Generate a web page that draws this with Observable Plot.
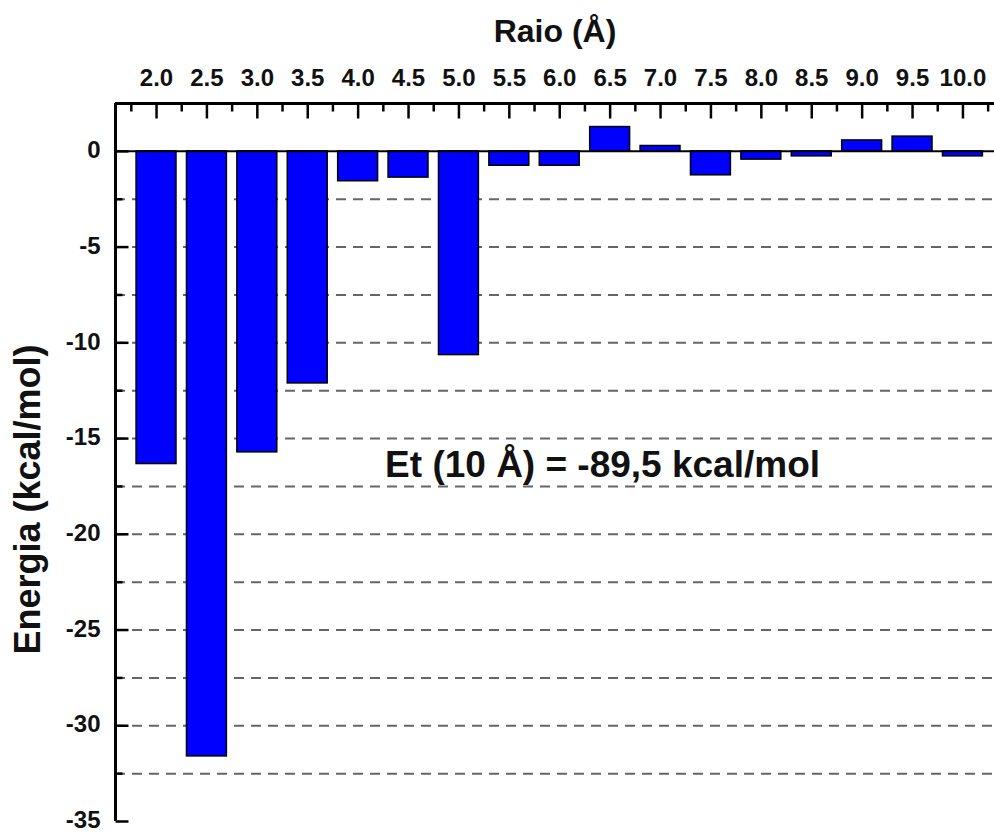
<!DOCTYPE html>
<html>
<head>
<meta charset="utf-8">
<script src="https://cdn.jsdelivr.net/npm/d3@7"></script>
<script src="https://cdn.jsdelivr.net/npm/@observablehq/plot@0.6"></script>
<style>
  html, body { margin: 0; padding: 0; background: #fff; }
  #chart svg { overflow: visible; display: block; }
</style>
</head>
<body>
<div id="chart"></div>
<script>
// Data
const radii = [2.0, 2.5, 3.0, 3.5, 4.0, 4.5, 5.0, 5.5, 6.0, 6.5, 7.0, 7.5, 8.0, 8.5, 9.0, 9.5, 10.0];
const energy = [-16.33, -31.6, -15.72, -12.12, -1.56, -1.37, -10.64, -0.75, -0.75, 1.27, 0.28, -1.25, -0.43, -0.26, 0.57, 0.77, -0.26];
const xTickLabels = ["2.0", "2.5", "3.0", "3.5", "4.0", "4.5", "5.0", "5.5", "6.0", "6.5", "7.0", "7.5", "8.0", "8.5", "9.0", "9.5", "10.0"];
const xMinorTicks = [1.75, 2.25, 2.75, 3.25, 3.75, 4.25, 4.75, 5.25, 5.75, 6.25, 6.75, 7.25, 7.75, 8.25, 8.75, 9.25, 9.75, 10.25];
const yTicks = [0, -5, -10, -15, -20, -25, -30, -35];
const yTickLabels = ["0", "-5", "-10", "-15", "-20", "-25", "-30", "-35"];
const yMinorTicks = [-2.5, -7.5, -12.5, -17.5, -22.5, -27.5, -32.5];
const gridLines = [-2.5, -5, -7.5, -10, -12.5, -15, -17.5, -20, -22.5, -25, -27.5, -30, -32.5];
const xTitle = "Raio (Å)";
const yTitle = "Energia (kcal/mol)";
const annotation = "Et (10 Å) = -89,5 kcal/mol";
const annotationPos = {x: 6.425, y: -16.38};

const table = radii.map((r, i) => ({r, e: energy[i]}));
const xDomain = [1.593, 10.313];
const yDomain = [-35, 2.5];
const halfBar = 0.198;

const W = 994, H = 832, mT = 103, mB = 11, mL = 115, mR = 0;
const plotW = W - mL - mR, plotH = H - mT - mB;
const pxPerY = plotH / (yDomain[1] - yDomain[0]);
const pxPerX = plotW / (xDomain[1] - xDomain[0]);
const font = "'Liberation Sans', Arial, Helvetica, sans-serif";

// inward ticks (pixel lengths converted to scale units)
const topTick = (vals, len) => Plot.link(vals, {x1: d => d, x2: d => d, y1: yDomain[1], y2: yDomain[1] - len / pxPerY, stroke: "#000", strokeWidth: 2.5});
const leftTick = (vals, len) => Plot.link(vals, {y1: d => d, y2: d => d, x1: xDomain[0], x2: xDomain[0] + len / pxPerX, stroke: "#000", strokeWidth: 2.5});

const chart = Plot.plot({
  width: W,
  height: H,
  marginTop: mT,
  marginBottom: mB,
  marginLeft: mL,
  marginRight: mR,
  style: {fontFamily: font},
  x: {type: "linear", domain: xDomain, axis: null},
  y: {type: "linear", domain: yDomain, axis: null},
  marks: [
    Plot.ruleY(gridLines, {y: d => d, stroke: "#666", strokeWidth: 2, strokeDasharray: "10,7"}),
    Plot.rectY(table, {x1: d => d.r - halfBar, x2: d => d.r + halfBar, y1: 0, y2: "e", fill: "#0000ff", stroke: "#000", strokeWidth: 1.5}),
    Plot.ruleY([0], {stroke: "#000", strokeWidth: 2}),
    Plot.ruleY([yDomain[1]], {stroke: "#000", strokeWidth: 3}),
    Plot.ruleX([xDomain[0]], {stroke: "#000", strokeWidth: 3}),
    topTick(radii, 15),
    topTick(xMinorTicks, 8),
    leftTick(yTicks, 13),
    leftTick(yMinorTicks, 7),
    Plot.text(radii, {x: d => d, text: (d, i) => xTickLabels[i], frameAnchor: "top", dy: -25, lineAnchor: "middle", fontSize: 24, fontWeight: "bold", fill: "#111"}),
    Plot.text(yTicks, {y: d => d, text: (d, i) => yTickLabels[i], frameAnchor: "left", dx: -15, dy: -1, textAnchor: "end", lineAnchor: "middle", fontSize: 24, fontWeight: "bold", fill: "#111"}),
    Plot.text([xTitle], {frameAnchor: "top", dy: -72, lineAnchor: "middle", fontSize: 32, fontWeight: "bold", fill: "#111"}),
    Plot.text([yTitle], {frameAnchor: "left", dx: -87, dy: 37, rotate: -90, textAnchor: "middle", lineAnchor: "middle", fontSize: 36, fontWeight: "bold", fill: "#111"}),
    Plot.text([annotation], {x: () => annotationPos.x, y: () => annotationPos.y, lineAnchor: "middle", fontSize: 37, fontWeight: "bold", fill: "#111"})
  ]
});
document.getElementById("chart").append(chart);
</script>
</body>
</html>
